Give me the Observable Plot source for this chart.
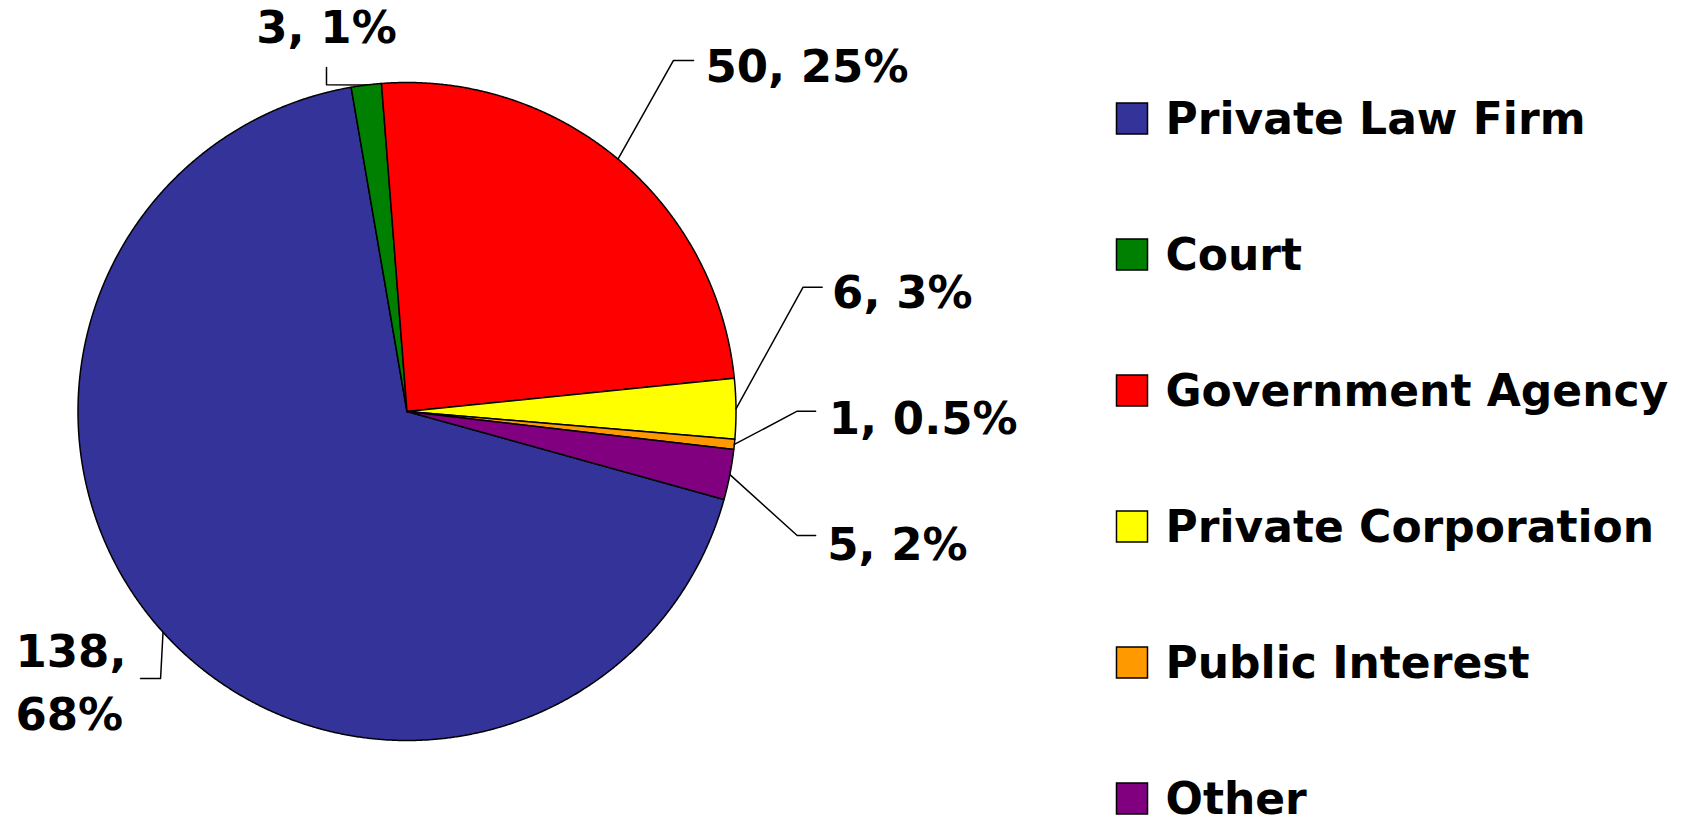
<!DOCTYPE html>
<html>
<head>
<meta charset="utf-8">
<script src="https://cdn.jsdelivr.net/npm/d3@7"></script>
<script src="https://cdn.jsdelivr.net/npm/@observablehq/plot@0.6"></script>
<style>
  html, body { margin: 0; padding: 0; background: #ffffff; }
  #wrap { display: flex; flex-direction: row; width: 1685px; height: 830px; overflow: hidden; }
</style>
</head>
<body>
<div id="wrap"></div>
<script>
// ---- data ----
const categories = ["Private Law Firm", "Court", "Government Agency", "Private Corporation", "Public Interest", "Other"];
const counts = [138, 3, 50, 6, 1, 5];
const percentText = ["68%", "1%", "25%", "3%", "0.5%", "2%"];

// ---- styles ----
const palette = ["#333399", "#008000", "#FF0000", "#FFFF00", "#FF9900", "#800080"];
const FONT = "'DejaVu Sans', Verdana, sans-serif";

// ---- layout (unit-circle coordinates for leader elbows and label anchors) ----
const firstSliceAngle = 105.5; // degrees clockwise from 12 o'clock
const labelLayout = [
  {elbow: [-0.749, -0.8116], end: [-0.810, -0.8116], text: [-1.190, -0.8116], anchor: "start", wrap: true},
  {elbow: [-0.2447, 0.993],  end: [-0.2447, 1.0456], text: [-0.2447, 1.164],  anchor: "middle"},
  {elbow: [0.810, 1.067],    end: [0.871, 1.067],    text: [0.907, 1.061],    anchor: "start"},
  {elbow: [1.204, 0.378],    end: [1.262, 0.378],    text: [1.292, 0.374],    anchor: "start"},
  {elbow: [1.186, 0.001],    end: [1.242, 0.001],    text: [1.282, -0.006],   anchor: "start"},
  {elbow: [1.186, -0.377],   end: [1.242, -0.377],   text: [1.277, -0.392],   anchor: "start"}
];

// ---- pie geometry from the data ----
const a0 = firstSliceAngle * Math.PI / 180;
const arcs = d3.pie().sort(null).startAngle(a0).endAngle(a0 + 2 * Math.PI)(counts);

const slicePts = arcs.flatMap((a, i) => {
  const cat = categories[i];
  const pts = [{x: 0, y: 0, cat}];
  const n = Math.max(2, Math.ceil((a.endAngle - a.startAngle) / (Math.PI / 720)));
  for (let k = 0; k <= n; k++) {
    const t = a.startAngle + (a.endAngle - a.startAngle) * k / n;
    pts.push({x: Math.sin(t), y: Math.cos(t), cat});
  }
  return pts;
});

const leaderPts = arcs.flatMap((a, i) => {
  const mid = (a.startAngle + a.endAngle) / 2;
  const L = labelLayout[i];
  return [
    {x: Math.sin(mid), y: Math.cos(mid), k: i},
    {x: L.elbow[0], y: L.elbow[1], k: i},
    {x: L.end[0], y: L.end[1], k: i}
  ];
});

const labels = categories.map((c, i) => ({
  cat: c,
  text: labelLayout[i].wrap ? `${counts[i]},\n${percentText[i]}` : `${counts[i]}, ${percentText[i]}`,
  x: labelLayout[i].text[0],
  y: labelLayout[i].text[1],
  anchor: labelLayout[i].anchor
}));

const colorScale = {domain: categories, range: palette};

const pie = Plot.plot({
  width: 1090,
  height: 830,
  margin: 0,
  style: {fontFamily: FONT, background: "#ffffff", overflow: "visible"},
  x: {domain: [-1, 1], range: [77.5, 735.5], axis: null},
  y: {domain: [-1, 1], range: [740, 82], axis: null},
  color: colorScale,
  marks: [
    Plot.line(slicePts, {x: "x", y: "y", z: "cat", fill: "cat", stroke: "#000000", strokeWidth: 1.5, curve: "linear-closed", strokeLinejoin: "round"}),
    Plot.line(leaderPts, {x: "x", y: "y", z: "k", stroke: "#000000", strokeWidth: 1.5, fill: "none"}),
    Plot.text(labels.filter(d => d.anchor === "start"), {x: "x", y: "y", text: "text", textAnchor: "start", lineAnchor: "middle", lineHeight: 1.39, fontSize: 45, fontWeight: "bold", fill: "#000000"}),
    Plot.text(labels.filter(d => d.anchor === "middle"), {x: "x", y: "y", text: "text", textAnchor: "middle", lineAnchor: "middle", fontSize: 45, fontWeight: "bold", fill: "#000000"})
  ]
});

const legend = Plot.plot({
  width: 595,
  height: 830,
  margin: 0,
  style: {fontFamily: FONT, background: "#ffffff"},
  y: {type: "point", domain: categories, range: [117, 798], padding: 0, axis: null},
  color: colorScale,
  marks: [
    Plot.dot(categories, {y: d => d, frameAnchor: "left", dx: 41.5, symbol: "square", r: 17.5, fill: d => d, stroke: "#000000", strokeWidth: 1.5}),
    Plot.text(categories, {y: d => d, frameAnchor: "left", dx: 75, dy: 1, text: d => d, textAnchor: "start", lineAnchor: "middle", fontSize: 44, fontWeight: "bold", fill: "#000000"})
  ]
});

document.getElementById("wrap").append(pie, legend);
</script>
</body>
</html>
